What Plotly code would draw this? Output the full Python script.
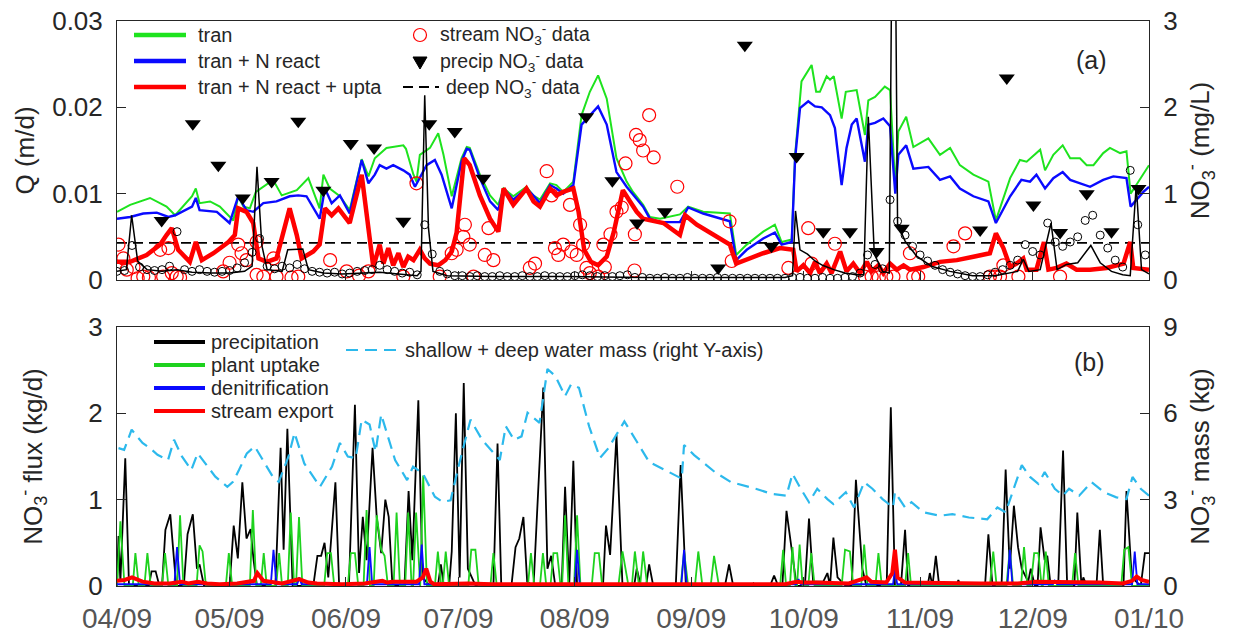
import pandas as pd
import plotly.graph_objects as go

START = pd.Timestamp("2009-04-01")

month_ticks = ["2009-04-01", "2009-05-01", "2009-06-01", "2009-07-01", "2009-08-01",
               "2009-09-01", "2009-10-01", "2009-11-01", "2009-12-01", "2010-01-01"]
month_labels = ["04/09", "05/09", "06/09", "07/09", "08/09",
                "09/09", "10/09", "11/09", "12/09", "01/10"]

# ---------------- panel (a): NO3 concentrations (mg/L), (day since 2009-04-01, value)
tran = [(0, 0.79), (3.5, 0.87), (8.8, 0.95), (11.5, 0.89), (13.2, 0.85), (15.5, 0.75), (20, 0.97),
        (21, 1.06), (22, 0.89), (24.8, 0.91), (27.4, 0.85), (31, 0.69), (32.3, 0.97), (33.7, 0.85),
        (35.4, 0.83), (37, 1.02), (41.6, 1.16), (43.9, 0.98), (47.9, 1.04), (51, 1.18), (54, 0.83),
        (55, 1.22), (56.7, 1.06), (59.4, 0.97), (62, 0.81), (65.2, 1.40), (67, 1.20), (68.7, 1.41),
        (71.8, 1.53), (76.3, 1.56), (77, 1.52), (79, 1.22), (79.8, 1.14), (80.7, 1.45), (83.4, 1.53),
        (85.6, 1.70), (87, 1.45), (89.2, 0.97), (91.8, 1.41), (93.2, 1.54), (94, 1.53), (96.7, 1.22),
        (99.4, 0.98), (101.6, 0.87), (103, 1.06), (105.6, 0.97), (109.1, 1.08), (110.9, 0.98),
        (112.7, 0.93), (115.4, 1.12), (117.1, 1.10), (118.9, 1.02), (121.6, 1.14), (123.8, 1.91),
        (126, 2.18), (128.2, 2.37), (130.5, 2.10), (133.1, 1.41), (135.8, 1.14), (137.5, 1.02),
        (140.2, 0.87), (142, 0.73), (144.7, 0.71), (150, 0.76), (152.2, 0.85), (156.2, 0.79),
        (163.3, 0.77), (165, 0.29), (167.8, 0.41), (172.2, 0.56), (175.3, 0.64), (177.1, 0.44),
        (179.8, 0.47), (180.7, 1.45), (182.4, 2.30), (185.1, 2.49), (186.3, 2.18), (187.3, 2.18),
        (189.1, 2.36), (190, 2.32), (191, 2.36), (193.1, 1.87), (194.2, 2.18), (197.1, 2.20),
        (199.3, 1.68), (200.2, 2.08), (202, 2.12), (204.6, 2.24), (206, 2.20), (207.4, 1.08),
        (208.2, 1.72), (210.3, 1.89), (212.2, 1.54), (216.2, 1.64), (219.3, 1.45), (222, 1.53),
        (224.6, 1.33), (228.2, 1.22), (232.2, 1.14), (234.2, 0.69), (238, 1.18), (240.6, 1.39),
        (242.4, 1.37), (246, 1.51), (247.3, 1.27), (249.5, 1.45), (252, 1.56), (254, 1.41),
        (256.6, 1.41), (258.4, 1.33), (260.2, 1.33), (262.8, 1.47), (264.6, 1.53), (267.3, 1.47),
        (269, 1.49), (270.1, 1.00), (273.5, 1.22), (275, 1.33)]

tran_react = [(0, 0.71), (3.5, 0.73), (7, 0.77), (10.6, 0.78), (13.7, 0.73), (15.5, 0.75), (20, 0.85),
              (21, 0.95), (22, 0.81), (26.6, 0.79), (30, 0.66), (32.3, 0.97), (34.5, 0.81), (36.3, 0.79),
              (39, 0.89), (42.5, 0.91), (46, 0.97), (48.3, 0.98), (50.5, 0.97), (54, 0.71), (55.4, 1.06),
              (57.2, 0.89), (59.4, 0.98), (62, 0.77), (65.2, 1.39), (67, 1.12), (68.7, 1.22), (70, 1.33),
              (71.8, 1.29), (73.6, 1.33), (76.3, 1.27), (78, 1.22), (79.4, 1.08), (80.7, 1.18),
              (82.5, 1.33), (84.7, 1.39), (86.5, 1.22), (89.2, 0.83), (91.8, 1.37), (93.2, 1.52),
              (94, 1.51), (96.7, 1.18), (99.4, 0.91), (101.6, 0.81), (103, 1.06), (105.6, 0.93),
              (109.1, 1.06), (110.9, 0.98), (112.7, 0.89), (115.4, 1.10), (117.1, 1.06), (118.9, 1.00),
              (121.6, 1.10), (123.8, 1.80), (126, 1.91), (128.2, 2.01), (130.5, 1.80), (133.1, 1.25),
              (135.8, 1.08), (138, 0.97), (140.2, 0.85), (142, 0.71), (144.7, 0.67), (150, 0.67),
              (152.2, 0.84), (156.2, 0.77), (163.3, 0.68), (165, 0.23), (167.8, 0.35), (172.2, 0.48),
              (175.3, 0.55), (177.1, 0.41), (179.8, 0.44), (180.7, 1.41), (182, 1.99), (184.2, 2.07),
              (186, 2.01), (187.8, 2.00), (190, 1.91), (191.3, 1.76), (193.1, 1.10), (194.4, 1.53),
              (195.8, 1.80), (197.1, 1.87), (199.3, 1.37), (200.2, 1.80), (202, 1.82), (204.2, 1.87),
              (206, 1.78), (207.4, 1.00), (208.2, 1.45), (210.3, 1.56), (212.2, 1.29), (216.2, 1.31),
              (219.3, 1.16), (222, 1.20), (224.6, 1.06), (228.2, 0.97), (232.2, 0.91), (234.2, 0.66),
              (238, 0.97), (241, 1.16), (243.3, 1.14), (245, 1.22), (247.3, 1.06), (249.5, 1.18),
              (252, 1.25), (254, 1.16), (256.6, 1.12), (259.3, 1.08), (262.8, 1.16), (265.5, 1.20),
              (269, 1.18), (270.1, 0.85), (273.5, 1.02), (275, 1.08)]

tran_react_upt = [(0, 0.21), (3.5, 0.21), (7.9, 0.29), (11.5, 0.41), (13.2, 0.52), (14.6, 0.60),
                  (16.3, 0.35), (19.4, 0.21), (21, 0.44), (22.6, 0.23), (25.7, 0.31), (29.7, 0.44),
                  (31.4, 0.52), (32.3, 0.83), (34.5, 0.79), (36.3, 0.66), (37.7, 0.25), (39.9, 0.21),
                  (42.5, 0.25), (44.3, 0.56), (46, 0.83), (47.9, 0.52), (49.2, 0.25), (52.3, 0.33),
                  (54, 0.41), (55.4, 0.83), (57.2, 0.75), (59, 0.83), (62, 0.66), (65.2, 1.22),
                  (66.5, 0.75), (68.3, 0.15), (70, 0.41), (71, 0.19), (72.3, 0.37), (73.6, 0.17),
                  (75, 0.31), (76.3, 0.15), (77.6, 0.27), (79, 0.23), (80.7, 0.35), (82, 0.25),
                  (83.4, 0.19), (85.6, 0.17), (87.5, 0.23), (89.2, 0.33), (90.5, 0.55), (92.5, 1.41),
                  (94, 1.33), (96.7, 0.98), (99.4, 0.71), (101.6, 0.56), (103, 1.06), (105.6, 0.87),
                  (109.1, 1.06), (111, 0.91), (112.7, 0.85), (115.4, 1.06), (117.1, 0.98), (118.9, 1.02),
                  (121.6, 1.06), (123, 0.79), (124.5, 0.35), (126.3, 0.21), (128.2, 0.17), (130.5, 0.27),
                  (132.4, 0.56), (134.8, 1.04), (136.7, 0.91), (138.5, 0.79), (140.2, 0.71), (142.9, 0.68),
                  (145.6, 0.66), (150, 0.52), (151.4, 0.75), (154.5, 0.64), (158.9, 0.52), (163.3, 0.41),
                  (165, 0.19), (172.2, 0.31), (176.7, 0.37), (180.2, 0.35), (181.1, 0.10), (182.9, 0.17),
                  (184.7, 0.08), (186, 0.21), (187.3, 0.08), (189.1, 0.19), (190.4, 0.08), (192.7, 0.33),
                  (194.4, 0.10), (196.2, 0.19), (198, 0.08), (199.8, 0.21), (201.1, 0.10), (202.9, 0.17),
                  (204.2, 0.08), (206, 0.19), (207.8, 0.12), (209.6, 0.17), (211.3, 0.12), (214.9, 0.15),
                  (219.3, 0.21), (223.8, 0.23), (228.2, 0.27), (232.6, 0.31), (234.2, 0.54), (236.2, 0.37),
                  (238, 0.15), (239.7, 0.19), (241.5, 0.25), (242.4, 0.12), (245, 0.12), (247, 0.44),
                  (248.2, 0.12), (250.4, 0.14), (253, 0.19), (255.7, 0.12), (259.3, 0.12), (263.7, 0.14),
                  (268.2, 0.19), (270, 0.44), (270.8, 0.14), (275, 0.12)]

stream_no3_data = [(0.4, 0.41), (1.7, 0.25), (2.6, 0.12), (4.4, 0.15), (5.5, 0.02), (7, 0.04), (8.5, 0.03),
                   (11.5, 0.35), (12.3, 0.04), (13.7, 0.37), (14.6, 0.08), (15.9, 0.04), (16.8, 0.03),
                   (28.3, 0.10), (30, 0.20), (32.3, 0.41), (33.2, 0.31), (34.5, 0.23), (37.2, 0.44),
                   (37.2, 0.06), (39, 0.04), (41.7, 0.25), (42.5, 0.04), (46.5, 0.03), (48.3, 0.04),
                   (56.8, 0.23), (61.2, 0.10), (64.5, 0.05), (67, 0.10), (76.3, 0.04), (79.8, 1.12),
                   (86, 0.04), (89.2, 0.31), (90.5, 0.35), (92.3, 0.50), (92.7, 0.64), (94, 0.41),
                   (95, 0.04), (98, 0.29), (99, 0.60), (100.3, 0.23), (110, 0.14), (111.4, 0.19),
                   (114.5, 1.26), (115.8, 0.98), (116.7, 0.37), (117.6, 0.29), (118.9, 0.41), (120.7, 0.87),
                   (121.1, 0.33), (122.5, 0.29), (123.4, 0.64), (124.2, 0.41), (125.1, 0.14), (126, 0.08),
                   (128.2, 0.04), (129.6, 0.41), (130, 0.15), (131.5, 0.53), (133.1, 0.79), (134.5, 0.84),
                   (135.5, 1.35), (137.9, 0.11), (138, 0.53), (138.3, 1.68), (139.3, 1.62), (140.2, 1.50),
                   (141.8, 1.91), (143, 1.42), (149.3, 1.08), (163.2, 0.68), (163.8, 0.22), (178.9, 0.14),
                   (184.2, 0.60), (185.1, 0.19), (191.3, 0.42), (199.3, 0.04), (201.1, 0.04), (203, 0.03),
                   (205, 0.04), (206.9, 0.04), (211.3, 0.31), (212.2, 0.04), (213.5, 0.04), (222.9, 0.39),
                   (226, 0.54), (232.6, 0.04), (234, 0.04), (235.3, 0.04), (236.2, 0.17), (240.2, 0.04),
                   (251.3, 0.04)]

precip_no3_data = [(11.9, 0.69), (20.2, 1.81), (27, 1.33), (33.5, 0.95), (41.2, 1.14), (48.3, 1.84),
                   (55, 1.04), (62.3, 1.58), (68.5, 1.53), (76.3, 0.68), (83.2, 1.81), (90, 1.72),
                   (97.6, 1.18), (125, 1.89), (132, 1.15), (138.6, 0.66), (146, 0.79), (160.2, 0.14),
                   (167.3, 2.72), (174.4, 0.39), (181.1, 1.43), (188.2, 0.56), (195.3, 0.56), (202.4, 0.33),
                   (209.1, 0.60), (230, 0.58), (237.1, 2.34), (244.2, 0.87), (251.3, 0.55), (258.4, 1.00),
                   (265, 0.56), (272.2, 1.06)]

deep_no3_days = [0, 275]
deep_no3_level = [0.43, 0.43]

# ---------------- panel (a): discharge Q (m/d)
q_model = [(0, 0.0010), (2.5, 0.0012), (3.9, 0.0075), (5.5, 0.0022), (8, 0.0012), (12, 0.0010),
           (16, 0.0012), (20, 0.0009), (25, 0.0008), (30, 0.0008), (34, 0.0010), (36, 0.0016),
           (37.3, 0.0131), (38.6, 0.0040), (40, 0.0012), (44, 0.0010), (45.5, 0.0035), (49.5, 0.0036),
           (51, 0.0012), (55, 0.0008), (60, 0.0007), (66, 0.0008), (70, 0.0009), (75, 0.0007),
           (80, 0.0005), (81, 0.0010), (82, 0.0214), (83, 0.0060), (84.2, 0.0010), (88, 0.0005),
           (100, 0.0004), (120, 0.0004), (140, 0.0003), (160, 0.0003), (178, 0.0003), (180, 0.0005),
           (180.8, 0.0080), (182, 0.0035), (184, 0.0030), (186, 0.0022), (188, 0.0017), (191, 0.0012),
           (194, 0.0008), (197, 0.0006), (199, 0.0006), (200.2, 0.0189), (201.8, 0.0030), (204, 0.0010),
           (205.8, 0.0008), (206.6, 0.0450), (207.3, 0.0450), (208, 0.0065), (210, 0.0045),
           (213, 0.0028), (217, 0.0016), (222, 0.0010), (228, 0.0005), (234, 0.0005), (238, 0.0008),
           (240, 0.0010), (241.5, 0.0024), (243, 0.0010), (246, 0.0012), (248.9, 0.0066),
           (250.5, 0.0012), (253, 0.0018), (256, 0.0020), (259.5, 0.0040), (262, 0.0020),
           (265, 0.0010), (268, 0.0006), (270, 0.0005), (271.6, 0.0110), (273, 0.0012), (275, 0.0007)]

q_obs_days = list(range(0, 275, 2))
q_obs = [0.0010, 0.0011, 0.0040, 0.0015, 0.0012, 0.0011, 0.0012, 0.0016, 0.0056, 0.0012,
         0.0010, 0.0012, 0.0010, 0.0009, 0.0010, 0.0011, 0.0014, 0.0020, 0.0032, 0.0048,
         0.0016, 0.0013, 0.0016, 0.0014, 0.0018, 0.0013, 0.0010, 0.0009, 0.0008, 0.0009,
         0.0007, 0.0008, 0.0010, 0.0011, 0.0012, 0.0017, 0.0012, 0.0010, 0.0008, 0.0009,
         0.0006, 0.0064, 0.0030, 0.0010, 0.0007, 0.0005, 0.0005, 0.0004, 0.0005, 0.0004,
         0.0004, 0.0005, 0.0004, 0.0004, 0.0005, 0.0004, 0.0004, 0.0005, 0.0004, 0.0004,
         0.0004, 0.0005, 0.0006, 0.0005, 0.0004, 0.0005, 0.0004, 0.0005, 0.0006, 0.0003,
         0.0003, 0.0002, 0.0002, 0.0003, 0.0002, 0.0002, 0.0003, 0.0002, 0.0002, 0.0002,
         0.0003, 0.0002, 0.0002, 0.0002, 0.0002, 0.0002, 0.0002, 0.0002, 0.0002, 0.0002,
         0.0003, 0.0003, 0.0002, 0.0002, 0.0003, 0.0002, 0.0002, 0.0003, 0.0004, 0.0008,
         0.0029, 0.0018, 0.0013, 0.0093, 0.0068, 0.0052, 0.0039, 0.0029, 0.0022, 0.0017,
         0.0012, 0.0009, 0.0007, 0.0005, 0.0004, 0.0004, 0.0006, 0.0009, 0.0012, 0.0017,
         0.0023, 0.0041, 0.0033, 0.0029, 0.0066, 0.0044, 0.0039, 0.0044, 0.0050, 0.0069,
         0.0075, 0.0052, 0.0037, 0.0023, 0.0015, 0.0127, 0.0064, 0.0029]

# ---------------- panel (b): NO3 fluxes (kg/d)
precip_flux = [(0, 0), (0.4, 0.58), (0.9, 0.05), (2.2, 1.48), (3.2, 0), (8.5, 0), (9.2, 0.17), (10.3, 0.17),
               (11.3, 0), (12, 0), (12.9, 0.65), (14.2, 0.83), (15.2, 0.30), (15.8, 0), (17.8, 0),
               (18.8, 0.60), (20.2, 0.83), (21.3, 0.20), (22, 0.25), (23.2, 0), (30, 0), (31.1, 0.70),
               (32.2, 0.32), (33.4, 1.20), (34.5, 0.55), (35.6, 0.66), (36.4, 0.30), (37.3, 0), (42.2, 0),
               (43.6, 1.60), (44.4, 0.42), (45.4, 1.82), (46.8, 0), (52.3, 0), (53.4, 0.35), (54.4, 0.35),
               (55.3, 0.50), (56.3, 0.10), (58.2, 1.20), (59.2, 0), (61.8, 0), (63.4, 2.10), (64.5, 0.15),
               (65.5, 0.80), (66.5, 0.30), (68.1, 1.60), (69.2, 0.80), (70.4, 0.38), (71.5, 1.00),
               (72.4, 0.80), (73.4, 0), (76.6, 0), (77.7, 1.10), (78.7, 0.30), (80.3, 2.15), (81.4, 0.10),
               (83.4, 0), (85.5, 0), (86.3, 0.25), (87.1, 0), (88.5, 0), (89.2, 0.40), (90.3, 2.00),
               (91.3, 0.10), (92.4, 2.35), (93.5, 0.20), (95.6, 0), (100.3, 0), (101.4, 1.65), (102.4, 0),
               (105.1, 0), (106.2, 0.45), (107.2, 0.55), (108.3, 0.80), (109.3, 0.05), (111, 0),
               (112, 0.90), (113.6, 2.30), (114.7, 0.20), (115.7, 0.35), (116.8, 0), (118.5, 0),
               (119.4, 1.15), (120.5, 0), (121.6, 1.45), (122.6, 0), (129.5, 0), (130.3, 0.70),
               (131.4, 0.36), (133.1, 1.75), (134.7, 0), (137.8, 0), (138.5, 0.20), (139.6, 0),
               (141, 0), (141.8, 0.25), (142.9, 0), (148.9, 0), (150.2, 1.40), (151.6, 0), (162, 0),
               (163.1, 0.25), (164.2, 0), (169, 0), (169.6, 0.03), (170.2, 0), (174, 0), (175.1, 0.12),
               (176.2, 0), (177.3, 0), (178.4, 0.87), (180, 0.35), (181.1, 0), (183.3, 0), (184.4, 0.78),
               (185.5, 0.05), (188.2, 0.05), (189.3, 0.15), (190, 0), (190.9, 0.56), (192, 0.10),
               (194.2, 0), (195.8, 0), (196.9, 1.23), (198.6, 0.20), (199.7, 0), (205.1, 0), (206.2, 2.07),
               (207.3, 0), (208.9, 0), (210, 0.65), (210.8, 0), (216, 0), (216.6, 0.15), (217.3, 0),
               (218.2, 0.35), (219.1, 0), (223.7, 0), (224.2, 0.07), (224.8, 0), (231.3, 0), (232.2, 0.60),
               (233.3, 0), (235.7, 0), (236.8, 1.35), (237.9, 0.20), (239, 0.93), (240.1, 0.45),
               (241.1, 0.20), (242.8, 0.05), (243.5, 0.20), (244.6, 0), (245.3, 0), (246.1, 0.68),
               (247.2, 0.30), (247.9, 0.35), (248.8, 0), (250.8, 0), (252.1, 1.57), (253.2, 0), (255.1, 0),
               (255.9, 0.85), (257, 0), (257.5, 0.10), (258.4, 0), (261, 0), (261.9, 0.65), (262.8, 0),
               (268.2, 0), (269, 1.10), (270.4, 0.10), (272.8, 0), (273.9, 0.38), (275, 0.38)]

uptake_flux = [(0, 0), (0.9, 0.75), (2, 0), (4.2, 0), (4.9, 0.38), (5.8, 0), (7.3, 0), (8.1, 0.38), (9, 0),
               (12, 0), (12.8, 0.38), (13.7, 0), (16, 0), (16.8, 0.82), (17.7, 0), (21.2, 0), (22, 0.47),
               (22.8, 0.40), (23.7, 0), (29, 0), (29.8, 0.38), (30.7, 0), (35.4, 0), (36.2, 0.88),
               (37.1, 0), (38.3, 0), (39.1, 0.38), (39.9, 0), (42.4, 0), (43.2, 0.38), (44, 0), (45.5, 0),
               (46.3, 0.85), (47.2, 0), (47.7, 0), (48.5, 0.80), (49.4, 0), (55.2, 0), (56, 0.38),
               (57, 0.38), (57.9, 0), (61.5, 0), (62.3, 0.38), (63.4, 0.38), (64.3, 0), (65.7, 0),
               (66.5, 0.88), (67.4, 0), (68.4, 0), (69.2, 0.82), (70.4, 0.42), (71.3, 0.35), (72.2, 0),
               (73.7, 0), (74.5, 0.85), (75.4, 0), (76.8, 0), (77.6, 0.85), (78.5, 0), (78.9, 0),
               (79.7, 0.85), (80.6, 0), (80.8, 0), (81.6, 1.28), (82.6, 0), (84.7, 0), (85.5, 0.40),
               (86.4, 0), (86.8, 0), (87.6, 0.40), (88.5, 0), (93.6, 0), (94.4, 0.42), (95.5, 0.42),
               (96.4, 0), (99.5, 0), (100.3, 0.38), (101.2, 0), (109.5, 0), (110.3, 0.38), (111.2, 0),
               (112.7, 0), (113.5, 0.38), (114.4, 0), (115.5, 0), (116.3, 0.38), (117.3, 0.38),
               (118.2, 0), (118.6, 0), (119.4, 0.82), (120.3, 0), (121.8, 0), (122.6, 0.82), (123.5, 0),
               (126.5, 0), (127.3, 0.38), (128.4, 0.38), (129.3, 0), (133.6, 0), (134.7, 0.40),
               (136.3, 0), (137.2, 0), (138, 0.40), (139.1, 0), (139.4, 0), (140.2, 0.40), (141.3, 0),
               (150.2, 0), (151.1, 0.40), (152.2, 0), (154, 0), (154.9, 0.40), (156, 0), (158.2, 0),
               (159.1, 0.35), (160.4, 0), (176.7, 0), (177.5, 0.42), (178.3, 0), (179.3, 0), (180, 0.45),
               (180.8, 0), (181.2, 0), (181.9, 0.48), (182.7, 0), (184.2, 0), (185, 0.38), (185.9, 0),
               (193.1, 0), (194, 0.42), (195.3, 0.40), (196.2, 0), (198.3, 0), (199.1, 0.48), (200, 0),
               (202.1, 0), (202.9, 0.38), (203.8, 0), (210, 0), (210.8, 0.38), (211.6, 0), (232.6, 0),
               (233.5, 0.40), (234.4, 0), (237, 0), (237.9, 0.42), (238.8, 0), (240.9, 0), (241.7, 0.45),
               (242.6, 0), (243.5, 0), (244.4, 0.38), (245.5, 0.38), (246.4, 0), (246.7, 0),
               (247.5, 0.40), (248.3, 0), (254.5, 0), (255.3, 0.38), (256.2, 0), (267.6, 0),
               (268.4, 0.42), (269.5, 0.45), (270.5, 0), (275, 0)]

denit_flux = [(0, 0.02), (15.3, 0.02), (16, 0.45), (16.8, 0.02), (41, 0.02), (41.7, 0.42), (42.5, 0.02),
              (48, 0.02), (48.6, 0.10), (49.2, 0.02), (66.6, 0.02), (67.3, 0.45), (68, 0.02), (80.5, 0.02),
              (81.2, 0.48), (81.9, 0.02), (122, 0.02), (122.6, 0.42), (123.3, 0.02), (150.4, 0.02),
              (151.1, 0.42), (151.8, 0.02), (181, 0.02), (181.6, 0.08), (182.2, 0.02), (206.8, 0.02),
              (207.3, 0.20), (207.9, 0.02), (237.3, 0.02), (237.9, 0.42), (238.6, 0.02), (249.4, 0.02),
              (249.9, 0.06), (250.5, 0.02), (270.5, 0.02), (271.2, 0.40), (271.9, 0.02), (275, 0.02)]

export_flux = [(0, 0.06), (2, 0.07), (4, 0.10), (6.8, 0.05), (10, 0.03), (14, 0.03), (17.3, 0.05),
               (19, 0.03), (21.5, 0.05), (24, 0.03), (27.3, 0.02), (32, 0.03), (36.5, 0.06), (37.4, 0.15),
               (39, 0.06), (40.5, 0.05), (44, 0.03), (48.5, 0.08), (51, 0.04), (53.3, 0.03), (60, 0.02),
               (66, 0.03), (70.7, 0.06), (72, 0.04), (73.4, 0.05), (79.8, 0.05), (81.5, 0.10), (82.4, 0.20),
               (83.5, 0.05), (84.5, 0.02), (93.5, 0.03), (100, 0.02), (110, 0.02), (123.1, 0.03),
               (130, 0.02), (150, 0.02), (178, 0.02), (181.1, 0.05), (183, 0.04), (186, 0.04), (195, 0.03),
               (198.5, 0.08), (199.7, 0.10), (201, 0.05), (205, 0.04), (206.6, 0.15), (207.3, 0.42),
               (208, 0.10), (210, 0.04), (230, 0.03), (235, 0.03), (240, 0.03), (245, 0.05), (248.8, 0.05),
               (255, 0.04), (262, 0.04), (268, 0.03), (270.5, 0.06), (271.7, 0.11), (273, 0.07), (275, 0.05)]

# ---------------- panel (b): NO3 mass in shallow + deep water (kg), right axis
water_mass = [(0.4, 4.79), (1.9, 4.73), (3.9, 5.43), (6.8, 4.97), (8.8, 4.79), (10.8, 4.56), (13.6, 4.38),
              (15.2, 5.08), (17.3, 4.50), (19.8, 4.03), (21.5, 4.61), (23.6, 4.26), (26.2, 3.80),
              (29.4, 3.45), (30.9, 3.62), (32.5, 4.03), (34.6, 4.61), (36.7, 4.85), (38.3, 4.50),
              (41.5, 3.80), (43.1, 3.62), (45.7, 4.50), (47.3, 5.32), (49.9, 4.26), (54.1, 3.45),
              (57.3, 4.15), (59.4, 4.97), (61.5, 4.50), (63.6, 4.44), (65.2, 5.78), (67.3, 5.61),
              (68.9, 4.67), (70.4, 5.96), (72, 5.26), (74.1, 4.38), (77.3, 3.68), (78.9, 4.15),
              (81.5, 3.91), (84.7, 3.10), (86.8, 2.92), (88.9, 2.98), (91, 4.15), (94.2, 5.78),
              (97.3, 5.08), (102, 4.38), (103.6, 5.55), (105.8, 5.08), (107.8, 5.20), (109.4, 6.02),
              (112.6, 5.67), (114.7, 7.54), (116.8, 7.30), (119.4, 6.60), (121, 7.01), (123.1, 6.89),
              (125.8, 5.55), (128.7, 4.45), (130.9, 4.78), (135.2, 5.72), (138.5, 5.02), (141.8, 4.31),
              (146.2, 4.02), (150.5, 3.73), (151.1, 4.90), (153.8, 4.55), (159.3, 3.96), (163.6, 3.61),
              (170.2, 3.38), (174.5, 3.20), (178.4, 3.14), (180, 3.90), (182.2, 3.38), (184.4, 2.91),
              (186.6, 3.38), (189.3, 3.02), (190.9, 2.85), (194.2, 3.26), (196.4, 2.73), (199.1, 3.61),
              (201.3, 3.38), (204, 3.02), (206.8, 2.73), (207.3, 3.26), (210, 2.73), (211.7, 2.91),
              (214.9, 2.56), (219.3, 2.44), (222.6, 2.50), (227, 2.38), (231.9, 2.32), (234.6, 2.73),
              (236.8, 2.56), (239, 3.38), (241.1, 4.20), (243.3, 3.79), (245.5, 3.55), (247.2, 3.96),
              (249.9, 3.38), (252.1, 3.14), (253.7, 3.38), (256.4, 3.14), (259.7, 3.61), (263, 3.26),
              (266.3, 3.08), (269, 3.02), (270.6, 3.79), (272.8, 3.38), (275, 3.14)]


def to_dates(days):
    return [START + pd.Timedelta(days=float(d)) for d in days]


def split(pairs):
    d, v = zip(*pairs)
    return to_dates(d), list(v)


GREEN = "#1ee31e"
BLUE = "#0a0aff"
RED = "#ff0000"
CYAN = "#2cb9ec"
DARK = "#262626"
FAM = "Liberation Sans, Arial, sans-serif"

fig = go.Figure()


def line(pairs, color, width, xa, ya, dash=None):
    x, y = split(pairs)
    fig.add_trace(go.Scatter(x=x, y=y, mode="lines", xaxis=xa, yaxis=ya,
                             line=dict(color=color, width=width, dash=dash), hoverinfo="skip"))


# panel (a) concentrations on y (right side), Q on y2 (left side, drawn on top)
fig.add_trace(go.Scatter(x=to_dates(deep_no3_days), y=deep_no3_level, mode="lines", xaxis="x2", yaxis="y",
                         line=dict(color="black", width=1.8, dash="10px,6px")))
line(tran, GREEN, 2, "x2", "y")
line(tran_react, BLUE, 2.4, "x2", "y")
line(tran_react_upt, RED, 4.5, "x2", "y")
sx, sy = split(stream_no3_data)
fig.add_trace(go.Scatter(x=sx, y=sy, mode="markers", xaxis="x2", yaxis="y",
                         marker=dict(symbol="circle-open", size=13, color=RED, line=dict(width=1.2))))
px_, py_ = split(precip_no3_data)
fig.add_trace(go.Scatter(x=px_, y=py_, mode="markers", xaxis="x2", yaxis="y",
                         marker=dict(symbol="triangle-down", size=14, color="black")))
line(q_model, "black", 1.5, "x2", "y2")
fig.add_trace(go.Scatter(x=to_dates(q_obs_days), y=q_obs, mode="markers", xaxis="x2", yaxis="y2",
                         marker=dict(symbol="circle-open", size=8, color="black", line=dict(width=1))))

# panel (b)
line(precip_flux, "black", 1.8, "x", "y3")
line(uptake_flux, "#1ed21e", 1.8, "x", "y3")
line(denit_flux, BLUE, 1.8, "x", "y3")
line(export_flux, RED, 4, "x", "y3")
line(water_mass, CYAN, 2.2, "x", "y4", dash="12px,7px")

TOP = [306 / 565, 1.0]
BOT = [0.0, 259 / 565]

common = dict(showline=True, linecolor=DARK, linewidth=1, ticks="inside", ticklen=9, tickwidth=1,
              tickcolor=DARK, showgrid=False, zeroline=False, automargin=False)
yfont = dict(family=FAM, size=26, color=DARK)
tfont = dict(family=FAM, size=26, color=DARK)
xrange_ = ["2009-04-01", "2010-01-01"]

fig.update_layout(
    width=1243, height=635, margin=dict(l=117, r=94, t=21, b=49, pad=0),
    paper_bgcolor="white", plot_bgcolor="white", showlegend=False, template="none",
    font=dict(family=FAM, size=20, color=DARK),
    xaxis=dict(**common, type="date", range=xrange_, domain=[0, 1], anchor="y3", mirror=True,
               tickvals=month_ticks, ticktext=month_labels, ticklabelstandoff=7,
               tickfont=dict(family=FAM, size=28, color="#555555")),
    xaxis2=dict(**common, type="date", range=xrange_, domain=[0, 1], anchor="y", mirror=True,
                tickvals=month_ticks, showticklabels=False),
    yaxis=dict(**common, domain=TOP, range=[0, 3], side="right", anchor="x2", mirror=True,
               tickvals=[0, 1, 2, 3], ticktext=["0", "1", "2", "3"], tickfont=yfont, ticklabelstandoff=8,
               title=dict(text="NO<sub>3</sub><sup>-</sup> (mg/L)", font=tfont, standoff=14)),
    yaxis2=dict(**common, range=[0, 0.03], side="left", overlaying="y", anchor="x2",
                tickvals=[0, 0.01, 0.02, 0.03], ticktext=["0", "0.01", "0.02", "0.03"],
                tickfont=yfont, ticklabelstandoff=8,
                title=dict(text="Q (m/d)", font=tfont, standoff=10)),
    yaxis3=dict(**common, domain=BOT, range=[0, 3], side="left", anchor="x", mirror=True,
                tickvals=[0, 1, 2, 3], ticktext=["0", "1", "2", "3"], tickfont=yfont, ticklabelstandoff=8,
                title=dict(text="NO<sub>3</sub><sup>-</sup> flux (kg/d)", font=tfont, standoff=38)),
    yaxis4=dict(**common, range=[0, 9], side="right", overlaying="y3", anchor="x",
                tickvals=[0, 3, 6, 9], ticktext=["0", "3", "6", "9"], tickfont=yfont, ticklabelstandoff=8,
                title=dict(text="NO<sub>3</sub><sup>-</sup> mass (kg)", font=tfont, standoff=14)),
)


# ---------------- manual legends (layout positions in pixels of the plot area)
def fx(px):
    return (px - 117) / 1032


def fy(py):
    return (586 - py) / 565


shapes = []
annos = []


def leg_line(x0, x1, y, color, width, dash=None):
    shapes.append(dict(type="line", xref="paper", yref="paper", x0=fx(x0), x1=fx(x1), y0=fy(y), y1=fy(y),
                       line=dict(color=color, width=width, dash=dash)))


def leg_text(x, y, text, size=20):
    annos.append(dict(xref="paper", yref="paper", x=fx(x), y=fy(y), text=text, showarrow=False,
                      xanchor="left", yanchor="middle", font=dict(family=FAM, size=size, color=DARK)))


leg_line(134, 186, 35, GREEN, 4.5)
leg_line(134, 186, 61, BLUE, 4.5)
leg_line(134, 186, 87, RED, 4.5)
leg_text(196, 35, "tran")
leg_text(196, 61, "tran + N react")
leg_text(196, 87, "tran + N react + upta")

shapes.append(dict(type="circle", xref="paper", yref="paper", xsizemode="pixel", ysizemode="pixel",
                   xanchor=fx(420), yanchor=fy(35), x0=-6.5, x1=6.5, y0=-6.5, y1=6.5,
                   line=dict(color=RED, width=1.2)))
shapes.append(dict(type="path", xref="paper", yref="paper", xsizemode="pixel", ysizemode="pixel",
                   xanchor=fx(420), yanchor=fy(62), path="M -7 5 L 7 5 L 0 -7 Z",
                   fillcolor="black", line=dict(color="black", width=1)))
leg_line(403, 439, 87, "black", 1.8, dash="10px,6px")
leg_text(438, 34, "stream NO<sub>3</sub><sup>-</sup> data", 19.5)
leg_text(438, 61, "precip NO<sub>3</sub><sup>-</sup> data", 19.5)
leg_text(444, 87, "deep NO<sub>3</sub><sup>-</sup> data", 19.5)

leg_line(154, 205, 342, "black", 4)
leg_line(154, 205, 365, "#1ed21e", 4)
leg_line(154, 205, 388, BLUE, 4)
leg_line(154, 205, 411, RED, 4)
leg_text(209, 342, "precipitation")
leg_text(209, 365, "plant uptake")
leg_text(209, 388, "denitrification")
leg_text(209, 411, "stream export")
leg_line(346, 397, 350, CYAN, 2.2, dash="12px,7px")
leg_text(403, 350, "shallow + deep water mass (right Y-axis)")

annos.append(dict(xref="paper", yref="paper", x=fx(1091), y=fy(60), text="(a)", showarrow=False,
                  xanchor="center", yanchor="middle", font=dict(family=FAM, size=25, color=DARK)))
annos.append(dict(xref="paper", yref="paper", x=fx(1089), y=fy(362), text="(b)", showarrow=False,
                  xanchor="center", yanchor="middle", font=dict(family=FAM, size=25, color=DARK)))

fig.update_layout(shapes=shapes, annotations=annos)

fig.write_html("out.html")
